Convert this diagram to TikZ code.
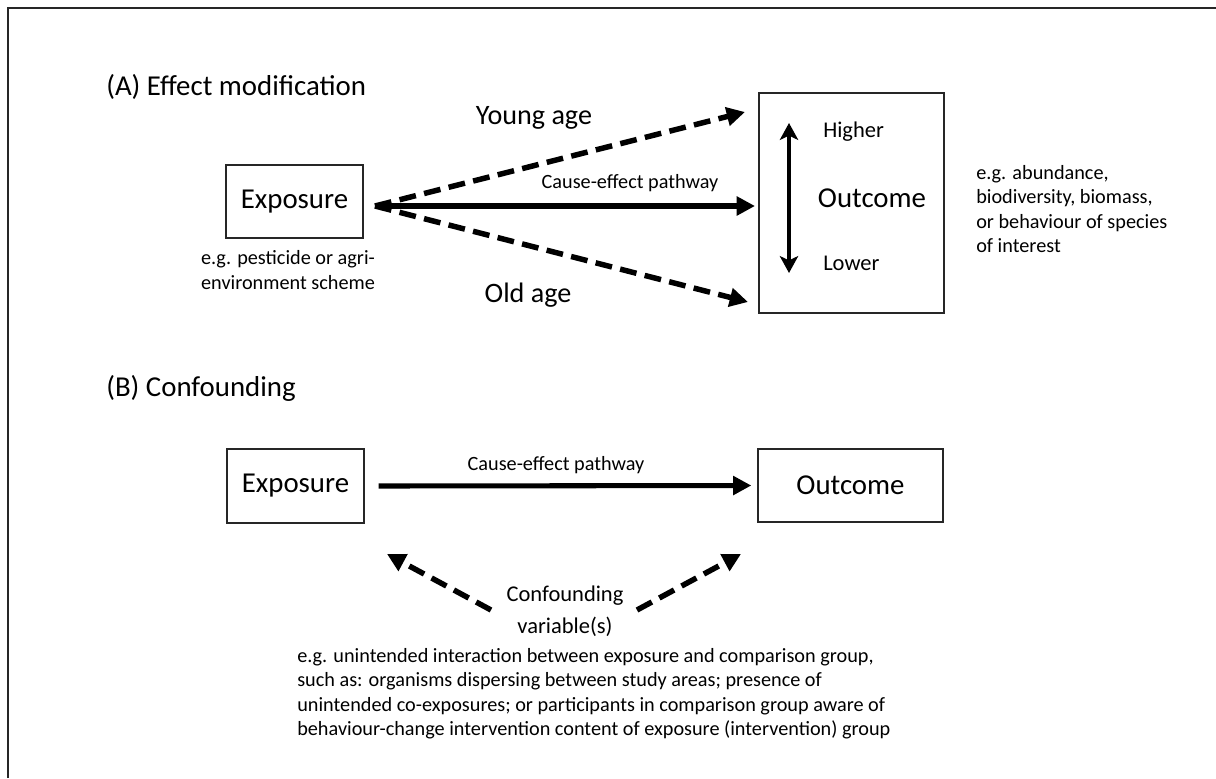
\documentclass[tikz,border=0pt]{standalone}
\usepackage{fontspec}
\setmainfont{Carlito}
\usetikzlibrary{arrows.meta,positioning}
\tikzset{
  box/.style={draw=black!85,line width=0.9pt,inner sep=0pt,font=\fontsize{20.5}{24}\selectfont},
  head/.style={inner sep=0pt,anchor=west,font=\fontsize{20.5}{24}\selectfont},
  lab/.style={inner sep=0pt,align=left,font=\fontsize{14.4}{17.4}\selectfont},
  big/.style={inner sep=0pt,font=\fontsize{20}{24}\selectfont},
  mid/.style={inner sep=0pt,align=center,font=\fontsize{16}{22.7}\selectfont},
  arr/.style={-{Triangle[length=13pt,width=13pt]},line width=3.6pt},
  darr/.style={arr,line width=3.9pt,dash pattern=on 12pt off 6pt},
  vbar/.style={{Stealth[length=12pt,width=13pt,inset=3pt]}-{Stealth[length=12pt,width=13pt,inset=3pt]},line width=2.2pt},
}
\begin{document}
\begin{tikzpicture}[x=0.025cm,y=-0.025cm]
\useasboundingbox (0,0) rectangle (1216,778);
\draw[black!85,line width=1.4pt] (8,778) -- (8,8) -- (1216,8);

% (A) effect modification
\node[head] (titA) at (106,87) {(A) Effect modification};
\node[box,minimum width=3.425cm,minimum height=1.825cm] (expA) at (294.5,201.5) {Exposure};
\node[lab,align=center] (expAnote) at (288,270) {e.g. pesticide or agri-\\environment scheme};
\node[box,minimum width=4.625cm,minimum height=5.5cm] (outA) at (851.5,203) {};
\node[big,font=\fontsize{20.5}{24}\selectfont] (outAtxt) at (872,198) {Outcome};
\coordinate (up) at (789,123);
\coordinate (dn) at (789,273);
\draw[vbar] (up) -- (dn);
\node[mid,anchor=west] (higher) at (823,132) {Higher};
\node[mid,anchor=west] (lower) at (823,263) {Lower};
\node[lab,anchor=west] (outAnote) at (976,209) {e.g. abundance,\\biodiversity, biomass,\\or behaviour of species\\of interest};
\coordinate (fork) at (375,206);
\coordinate (youngtip) at (745,112);
\coordinate (maintip) at (755,206);
\coordinate (oldtip) at (748,302);
\draw[darr] (fork) -- (youngtip);
\draw[arr] (fork) -- (maintip);
\draw[darr] (fork) -- (oldtip);
\node[big] (young) at (534,118) {Young age};
\node[big] (old) at (528,295) {Old age};
\node[lab] (pathA) at (630,183) {Cause-effect pathway};

% (B) confounding
\node[head] (titB) at (106,388) {(B) Confounding};
\node[box,minimum width=3.425cm,minimum height=1.85cm] (expB) at (295.5,486) {Exposure};
\node[box,minimum width=4.625cm,minimum height=1.825cm] (outB) at (850.5,485.5) {Outcome};
\draw[arr] ([xshift=0.35cm]expB.east) -- ([xshift=-0.15cm]outB.west);
\node[lab] (pathB) at (556,465) {Cause-effect pathway};
\node[mid] (conf) at (565,611) {Confounding\\variable(s)};
\coordinate (confL) at (491,610);
\coordinate (confR) at (637,610);
\coordinate (tipL) at (387,554);
\coordinate (tipR) at (741,554);
\draw[darr] (confL) -- (tipL);
\draw[darr] (confR) -- (tipR);
\node[lab,anchor=west] (confnote) at (297,693.5) {e.g. unintended interaction between exposure and comparison group,\\such as: organisms dispersing between study areas; presence of\\unintended co-exposures; or participants in comparison group aware of\\behaviour-change intervention content of exposure (intervention) group};
\end{tikzpicture}
\end{document}
